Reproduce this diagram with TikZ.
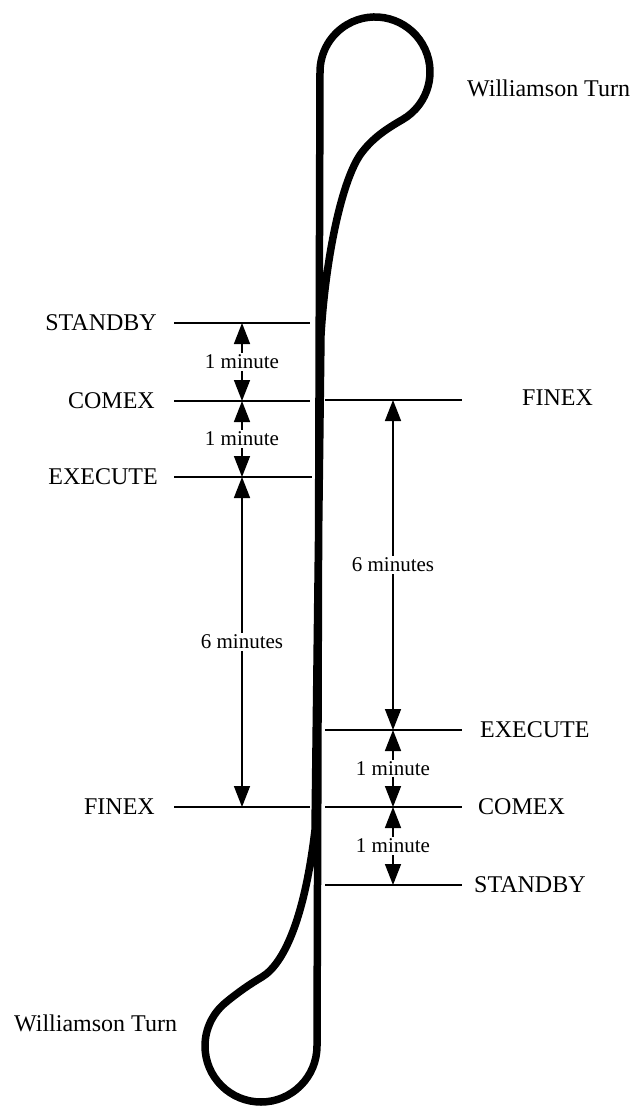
\documentclass[tikz,border=0pt]{standalone}
\usepackage{fontspec}
\setmainfont{Liberation Serif}
\usetikzlibrary{arrows.meta}
\begin{document}
\begin{tikzpicture}[x=1pt,y=-1pt,
  track/.style={line width=7.5pt, line join=round},
  tickline/.style={line width=1.8pt},
  dimarrow/.style={line width=1.6pt, {Triangle[length=21pt,width=16pt]}-{Triangle[length=21pt,width=16pt]}},
  dimlabel/.style={fill=white, inner sep=1.5pt, font=\fontsize{21}{24}\selectfont},
  lab/.style={font=\fontsize{24}{28}\selectfont, inner sep=0pt}
]
\useasboundingbox (0,0) rectangle (641,1106);

% track (closed path of the two Williamson turns)
\coordinate (topL) at (320,72);
\coordinate (botR) at (317,1046);
\coordinate (mergeB) at (315,830);
\coordinate (mergeT) at (321,335);
\draw[track] (topL) -- (botR)
  arc[start angle=0, end angle=230, radius=56]
  .. controls (237,993) and (250,984) .. (262,977)
  .. controls (285,963) and (305,915) .. (mergeB)
  -- (mergeT)
  .. controls (325,265) and (340,185) .. (360,155)
  .. controls (372,138) and (387.5,128.3) .. (402.5,119.6)
  arc[start angle=60, end angle=-180, radius=55] -- cycle;

% left marker lines
\coordinate (lsA) at (174,323); \coordinate (lsB) at (310,323);
\coordinate (lcA) at (174,401); \coordinate (lcB) at (310,401);
\coordinate (leA) at (174,477); \coordinate (leB) at (312,477);
\coordinate (lfA) at (174,807); \coordinate (lfB) at (310,807);
\draw[tickline] (lsA) -- (lsB);
\draw[tickline] (lcA) -- (lcB);
\draw[tickline] (leA) -- (leB);
\draw[tickline] (lfA) -- (lfB);

% right marker lines
\coordinate (rfA) at (325,400); \coordinate (rfB) at (462,400);
\coordinate (reA) at (325,730); \coordinate (reB) at (462,730);
\coordinate (rcA) at (325,807); \coordinate (rcB) at (462,807);
\coordinate (rsA) at (325,885); \coordinate (rsB) at (462,885);
\draw[tickline] (rfA) -- (rfB);
\draw[tickline] (reA) -- (reB);
\draw[tickline] (rcA) -- (rcB);
\draw[tickline] (rsA) -- (rsB);

% left labels
\node[lab, anchor=east] (tLs) at (157,323) {STANDBY};
\node[lab, anchor=east] (tLc) at (155,401) {COMEX};
\node[lab, anchor=east] (tLe) at (158,477) {EXECUTE};
\node[lab, anchor=east] (tLf) at (155,807) {FINEX};

% right labels
\node[lab, anchor=west] (tRf) at (522,398) {FINEX};
\node[lab, anchor=west] (tRe) at (480,730) {EXECUTE};
\node[lab, anchor=west] (tRc) at (478,807) {COMEX};
\node[lab, anchor=west] (tRs) at (474,885) {STANDBY};

% Williamson Turn labels
\node[lab, anchor=base west] (wtTop) at (467,96) {Williamson Turn};
\node[lab, anchor=base west] (wtBot) at (14,1031) {Williamson Turn};

% left dimension arrows
\coordinate (dl1) at (242,323);
\coordinate (dl2) at (242,401);
\coordinate (dl3) at (242,477);
\coordinate (dl4) at (242,807);
\draw[dimarrow] (dl1) -- (dl2) node[dimlabel, midway] (m1) {1 minute};
\draw[dimarrow] (dl2) -- (dl3) node[dimlabel, midway] (m2) {1 minute};
\draw[dimarrow] (dl3) -- (dl4) node[dimlabel, midway] (m3) {6 minutes};

% right dimension arrows
\coordinate (dr1) at (393,400);
\coordinate (dr2) at (393,730);
\coordinate (dr3) at (393,807);
\coordinate (dr4) at (393,885);
\draw[dimarrow] (dr1) -- (dr2) node[dimlabel, midway] (m4) {6 minutes};
\draw[dimarrow] (dr2) -- (dr3) node[dimlabel, midway] (m5) {1 minute};
\draw[dimarrow] (dr3) -- (dr4) node[dimlabel, midway] (m6) {1 minute};
\end{tikzpicture}
\end{document}
